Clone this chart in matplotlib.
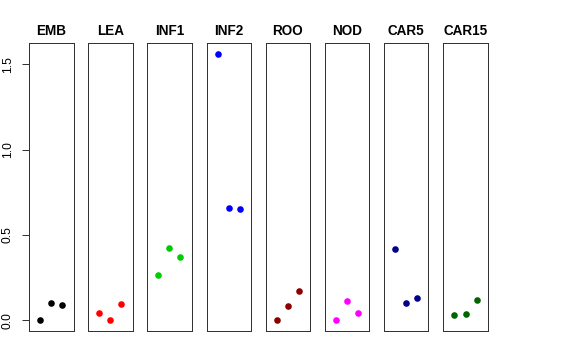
import matplotlib
matplotlib.use("Agg")
import matplotlib.pyplot as plt

plt.rcParams['font.family'] = ['Liberation Sans', 'DejaVu Sans']

categories = ["EMB", "LEA", "INF1", "INF2", "ROO", "NOD", "CAR5", "CAR15"]
values = {
    "EMB":   [0.000, 0.100, 0.088],
    "LEA":   [0.045, 0.000, 0.094],
    "INF1":  [0.268, 0.422, 0.370],
    "INF2":  [1.563, 0.659, 0.650],
    "ROO":   [0.000, 0.084, 0.170],
    "NOD":   [0.000, 0.113, 0.041],
    "CAR5":  [0.419, 0.102, 0.129],
    "CAR15": [0.029, 0.035, 0.121],
}
colors = ["#000000", "#FF0000", "#00CD00", "#0000FF", "#8B0000", "#FF00FF", "#00008B", "#006400"]
yticks = [0.0, 0.5, 1.0, 1.5]
ytick_labels = ["0.0", "0.5", "1.0", "1.5"]

W, H = 576, 360
fig = plt.figure(figsize=(W / 72, H / 72), dpi=72)

lefts = [29, 88, 147, 206.5, 265.7, 324.7, 383.7, 443.3]
pw = 44.5
top, bottom = 43, 331

allv = [v for k in categories for v in values[k]]
lo, hi = min(allv), max(allv)
ext = (hi - lo) * 0.04

for i, (cat, col) in enumerate(zip(categories, colors)):
    ax = fig.add_axes([lefts[i] / W, (H - bottom) / H, pw / W, (bottom - top) / H])
    ax.plot([1, 2, 3], values[cat], 'o', color=col, markersize=6.6, markeredgewidth=0)
    ax.set_xlim(0, 4)
    ax.set_ylim(lo - ext, hi + ext)
    ax.set_xticks([])
    ax.set_title(cat, fontsize=13.5, fontweight='bold', pad=8)
    for s in ax.spines.values():
        s.set_color("#333333")
        s.set_linewidth(1)
    if i == 0:
        ax.set_yticks(yticks)
        ax.set_yticklabels(ytick_labels, rotation=90, va='center', fontsize=12)
        ax.tick_params(axis='y', length=7, width=1, pad=8, color="#333333")
    else:
        ax.set_yticks([])

fig.savefig("out.png", dpi=72)
